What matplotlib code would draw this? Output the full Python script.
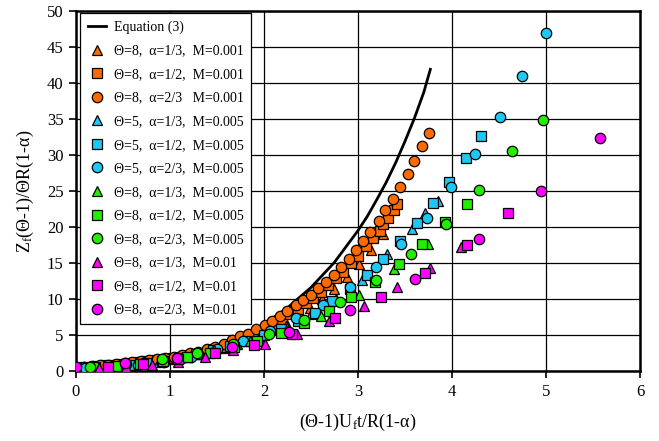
import matplotlib
matplotlib.use("Agg")
import matplotlib.pyplot as plt

plt.rcParams['font.family'] = ['Liberation Serif', 'DejaVu Serif']
plt.rcParams['mathtext.fontset'] = 'custom'
plt.rcParams['mathtext.rm'] = 'Liberation Serif'
plt.rcParams['mathtext.it'] = 'Liberation Serif:italic'

# Equation (3) curve
eq_x = [0, 0.25, 0.5, 0.75, 1.0, 1.25, 1.5, 1.75, 2.0, 2.25, 2.5, 2.75, 3.0, 3.1, 3.2, 3.3, 3.4, 3.5, 3.6, 3.7, 3.77]
eq_y = [0, 0.07, 0.30, 0.70, 1.30, 2.14, 3.25, 4.68, 6.5, 8.78, 11.6, 15.1, 19.5, 21.5, 23.8, 26.2, 28.9, 31.9, 35.1, 38.7, 41.9]

# Theta=8, alpha=1/3, M=0.001 (orange triangles)
o_tri_x = [0.02, 0.15, 0.28, 0.41, 0.54, 0.67, 0.80, 0.93, 1.06, 1.19, 1.32, 1.45, 1.58, 1.71, 1.84, 1.97, 2.10, 2.23, 2.36, 2.49, 2.62, 2.75, 2.88, 3.01, 3.14, 3.27]
o_tri_y = [0.4, 0.5, 0.6, 0.75, 0.9, 1.05, 1.25, 1.45, 1.7, 2.0, 2.3, 2.7, 3.2, 3.7, 4.3, 5.0, 5.8, 6.7, 7.7, 8.8, 10.0, 11.4, 13.0, 14.8, 16.8, 19.0]
# Theta=8, alpha=1/2, M=0.001 (orange squares)
o_sq_x = [0.04, 0.13, 0.22, 0.31, 0.40, 0.49, 0.58, 0.67, 0.76, 0.85, 0.94, 1.03, 1.12, 1.21, 1.30, 1.39, 1.48, 1.57, 1.66, 1.75, 1.84, 1.93, 2.02, 2.11, 2.19, 2.28, 2.36, 2.45, 2.52, 2.61, 2.68, 2.77, 2.84, 2.93, 3.00, 3.09, 3.16, 3.23, 3.27, 3.32, 3.38, 3.42]
o_sq_y = [0.5, 0.6, 0.7, 0.8, 0.9, 1.0, 1.1, 1.2, 1.35, 1.5, 1.65, 1.8, 2.0, 2.2, 2.4, 2.7, 3.0, 3.4, 3.8, 4.3, 4.8, 5.3, 5.9, 6.5, 7.2, 7.9, 8.6, 9.4, 10.2, 11.0, 11.9, 12.9, 13.8, 15.0, 16.0, 17.3, 18.5, 19.4, 20.4, 21.3, 22.4, 23.2]
# Theta=8, alpha=2/3, M=0.001 (orange circles)
o_ci_x = [0.00, 0.08, 0.17, 0.26, 0.34, 0.43, 0.52, 0.60, 0.69, 0.78, 0.86, 0.95, 1.04, 1.13, 1.21, 1.30, 1.39, 1.48, 1.57, 1.66, 1.74, 1.83, 1.92, 2.01, 2.09, 2.17, 2.25, 2.34, 2.42, 2.50, 2.58, 2.66, 2.74, 2.82, 2.90, 2.98, 3.05, 3.13, 3.22, 3.29, 3.37, 3.45, 3.53, 3.60, 3.68, 3.76]
o_ci_y = [0.5, 0.6, 0.7, 0.8, 0.9, 1.0, 1.1, 1.2, 1.35, 1.5, 1.65, 1.8, 2.0, 2.2, 2.45, 2.7, 3.0, 3.4, 3.8, 4.3, 4.8, 5.2, 5.8, 6.4, 7.0, 7.6, 8.3, 9.1, 9.8, 10.6, 11.5, 12.4, 13.3, 14.4, 15.5, 16.8, 18.0, 19.3, 20.8, 22.3, 23.9, 25.6, 27.4, 29.2, 31.2, 33.1]

# Theta=5, M=0.005 (cyan)
c_tri_x = [0.07, 0.34, 0.61, 0.88, 1.15, 1.42, 1.69, 1.96, 2.23, 2.50, 2.77, 3.04, 3.31, 3.58, 3.71, 3.85]
c_tri_y = [0.4, 0.6, 0.9, 1.3, 1.9, 2.7, 3.7, 4.9, 6.3, 7.9, 10.0, 12.6, 16.3, 19.7, 22.0, 23.6]
c_sq_x = [0.20, 0.38, 0.56, 0.74, 0.92, 1.10, 1.28, 1.46, 1.64, 1.82, 2.00, 2.18, 2.36, 2.54, 2.72, 2.92, 3.10, 3.27, 3.45, 3.63, 3.80, 3.97, 4.15, 4.31]
c_sq_y = [0.5, 0.6, 0.8, 1.1, 1.4, 1.8, 2.3, 2.9, 3.5, 4.2, 5.0, 5.9, 6.9, 8.1, 9.7, 11.4, 13.3, 15.5, 18.0, 20.5, 23.3, 26.3, 29.6, 32.6]
c_ci_x = [0.10, 0.38, 0.66, 0.94, 1.22, 1.50, 1.78, 2.06, 2.34, 2.63, 2.91, 3.19, 3.46, 3.73, 3.99, 4.25, 4.51, 4.75, 5.00]
c_ci_y = [0.4, 0.6, 0.9, 1.3, 2.0, 3.0, 4.2, 5.6, 7.3, 9.2, 11.6, 14.4, 17.6, 21.3, 25.5, 30.2, 35.3, 41.0, 46.9]

# Theta=8, M=0.005 (green)
g_tri_x = [0.33, 0.71, 1.09, 1.47, 1.85, 2.23, 2.61, 3.01, 3.38, 3.75]
g_tri_y = [0.6, 1.2, 1.9, 2.9, 4.1, 5.7, 7.7, 10.6, 14.2, 17.6]
g_sq_x = [0.18, 0.43, 0.68, 0.93, 1.18, 1.43, 1.68, 1.93, 2.18, 2.43, 2.69, 2.93, 3.18, 3.44, 3.68, 3.93, 4.16]
g_sq_y = [0.5, 0.7, 1.0, 1.4, 1.9, 2.5, 3.3, 4.2, 5.3, 6.6, 8.4, 10.3, 12.4, 14.9, 17.6, 20.7, 23.2]
g_ci_x = [0.15, 0.53, 0.91, 1.29, 1.67, 2.05, 2.43, 2.81, 3.19, 3.56, 3.94, 4.29, 4.64, 4.97]
g_ci_y = [0.5, 1.0, 1.6, 2.5, 3.7, 5.2, 7.1, 9.6, 12.7, 16.2, 20.4, 25.2, 30.6, 34.9]

# Theta=8, M=0.01 (magenta)
m_tri_x = [0.25, 0.53, 0.81, 1.09, 1.37, 1.67, 2.01, 2.35, 2.69, 3.06, 3.42, 3.77, 4.10]
m_tri_y = [0.4, 0.6, 0.8, 1.3, 2.0, 2.9, 3.75, 5.2, 6.9, 9.0, 11.6, 14.3, 17.2]
m_sq_x = [0.34, 0.71, 1.09, 1.48, 1.89, 2.30, 2.76, 3.24, 3.71, 4.16, 4.60]
m_sq_y = [0.6, 1.0, 1.6, 2.5, 3.6, 5.1, 7.3, 10.3, 13.6, 17.5, 22.0]
m_ci_x = [0.00, 0.52, 1.08, 1.66, 2.27, 2.91, 3.61, 4.29, 4.95, 5.58]
m_ci_y = [0.5, 1.1, 1.8, 3.3, 5.4, 8.5, 12.8, 18.4, 25.0, 32.4]

labels = [
    "\u0398=8,  \u03b1=1/3,  M=0.001",
    "\u0398=8,  \u03b1=1/2,  M=0.001",
    "\u0398=8,  \u03b1=2/3   M=0.001",
    "\u0398=5,  \u03b1=1/3,  M=0.005",
    "\u0398=5,  \u03b1=1/2,  M=0.005",
    "\u0398=5,  \u03b1=2/3,  M=0.005",
    "\u0398=8,  \u03b1=1/3,  M=0.005",
    "\u0398=8,  \u03b1=1/2,  M=0.005",
    "\u0398=8,  \u03b1=2/3,  M=0.005",
    "\u0398=8,  \u03b1=1/3,  M=0.01",
    "\u0398=8,  \u03b1=1/2,  M=0.01",
    "\u0398=8,  \u03b1=2/3,  M=0.01",
]

ORANGE = '#FF6A00'
CYAN = '#1EC8F5'
GREEN = '#22EE00'
MAGENTA = '#FF00FF'

series = [
    (o_tri_x, o_tri_y, '^', ORANGE),
    (o_sq_x, o_sq_y, 's', ORANGE),
    (o_ci_x, o_ci_y, 'o', ORANGE),
    (c_tri_x, c_tri_y, '^', CYAN),
    (c_sq_x, c_sq_y, 's', CYAN),
    (c_ci_x, c_ci_y, 'o', CYAN),
    (g_tri_x, g_tri_y, '^', GREEN),
    (g_sq_x, g_sq_y, 's', GREEN),
    (g_ci_x, g_ci_y, 'o', GREEN),
    (m_tri_x, m_tri_y, '^', MAGENTA),
    (m_sq_x, m_sq_y, 's', MAGENTA),
    (m_ci_x, m_ci_y, 'o', MAGENTA),
]

fig = plt.figure(figsize=(6.59, 4.41), dpi=100)
ax = fig.add_axes([0.1153, 0.1587, 0.8558, 0.8163])

ax.plot(eq_x, eq_y, color='black', lw=2.0, label='Equation (3)', zorder=2)
for (xs, ys, mk, col), lab in zip(series, labels):
    ms = 7.5 if mk == 'o' else 7.0
    ax.plot(xs, ys, linestyle='none', marker=mk, markersize=ms, markerfacecolor=col,
            markeredgecolor='black', markeredgewidth=0.9, label=lab, zorder=3)

ax.set_xlim(0, 6)
ax.set_ylim(0, 50)
ax.set_xticks(range(0, 7))
ax.set_yticks(range(0, 51, 5))
ax.grid(True, color='black', lw=0.9)
ax.set_axisbelow(True)
for s in ax.spines.values():
    s.set_linewidth(1.8)
ax.tick_params(direction='out', length=5, width=1.2, labelsize=12, pad=4)

ax.set_xlabel('(\u0398-1)U$_\\mathrm{f}$t/R(1-\u03b1)', fontsize=13, labelpad=9)
ax.set_ylabel('Z$_\\mathrm{f}$(\u0398-1)/\u0398R(1-\u03b1)', fontsize=13, labelpad=8)

leg = ax.legend(loc='upper left', bbox_to_anchor=(0.007, 0.995), borderaxespad=0,
                fontsize=10, labelspacing=0.76, handlelength=1.3, handletextpad=0.6,
                fancybox=False, framealpha=1, edgecolor='black', borderpad=0.55)
leg.get_frame().set_linewidth(0.9)

fig.savefig('out.png', dpi=100)
